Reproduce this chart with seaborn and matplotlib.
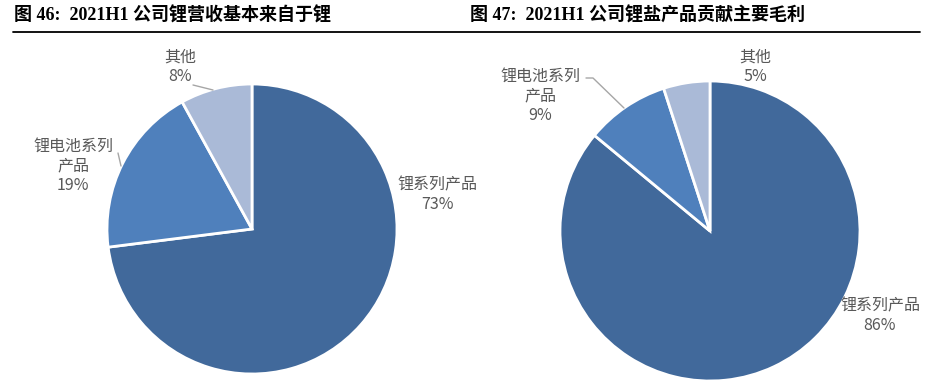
import matplotlib
matplotlib.use("Agg")
import matplotlib.pyplot as plt
import seaborn as sns

sns.set_theme(style="white")
plt.rcParams['font.family'] = ['Noto Sans CJK SC', 'DejaVu Sans']

# data
left_title = "图 46:  2021H1 公司锂营收基本来自于锂"
right_title = "图 47:  2021H1 公司锂盐产品贡献主要毛利"
left_labels = ["锂系列产品", "锂电池系列\n产品", "其他"]
left_values = [73, 19, 8]
right_labels = ["锂系列产品", "锂电池系列\n产品", "其他"]
right_values = [86, 9, 5]

colors = ["#41699B", "#4F80BC", "#AABAD7"]
text_color = "#595959"
H = 391

fig = plt.figure(figsize=(9.32, 3.91), dpi=100)
ax = fig.add_axes([0, 0, 1, 1])

# pies (pixel space, y flipped)
wp = dict(edgecolor="white", linewidth=2)
ax.pie(left_values, colors=colors, startangle=90, counterclock=False,
       center=(252, H - 229), radius=145, wedgeprops=wp, frame=True)
ax.pie(right_values, colors=colors, startangle=90, counterclock=False,
       center=(710, H - 231), radius=150, wedgeprops=wp, frame=True)
ax.set_xlim(0, 932)
ax.set_ylim(0, H)
ax.set_aspect("equal")
ax.axis("off")

# titles and rule
tfont = ['Liberation Serif', 'Noto Sans CJK SC']
ax.text(14, H - 16, left_title, fontsize=13, fontweight="bold", family=tfont,
        va="center", ha="left", color="black")
ax.text(470, H - 16, right_title, fontsize=13, fontweight="bold", family=tfont,
        va="center", ha="left", color="black")
ax.plot([13, 920], [H - 32, H - 32], color="black", lw=1.3)

# labels
def label(x, y, name, value):
    ax.text(x, H - y, f"{name}\n{value}%", ha="center", va="center",
            fontsize=11.5, color=text_color, linespacing=1.2)

label(437, 195, left_labels[0], left_values[0])
label(73, 166, left_labels[1], left_values[1])
label(180, 67, left_labels[2], left_values[2])
label(880, 316, right_labels[0], right_values[0])
label(540, 96, right_labels[1], right_values[1])
label(755, 67, right_labels[2], right_values[2])

# leader lines
lc = "#A6A6A6"
ax.plot([193, 213], [H - 85, H - 90], color=lc, lw=1)
ax.plot([118, 121], [H - 153, H - 166], color=lc, lw=1)
ax.plot([586, 593, 624], [H - 78, H - 78, H - 108], color=lc, lw=1)

fig.savefig("out.png", dpi=100)
